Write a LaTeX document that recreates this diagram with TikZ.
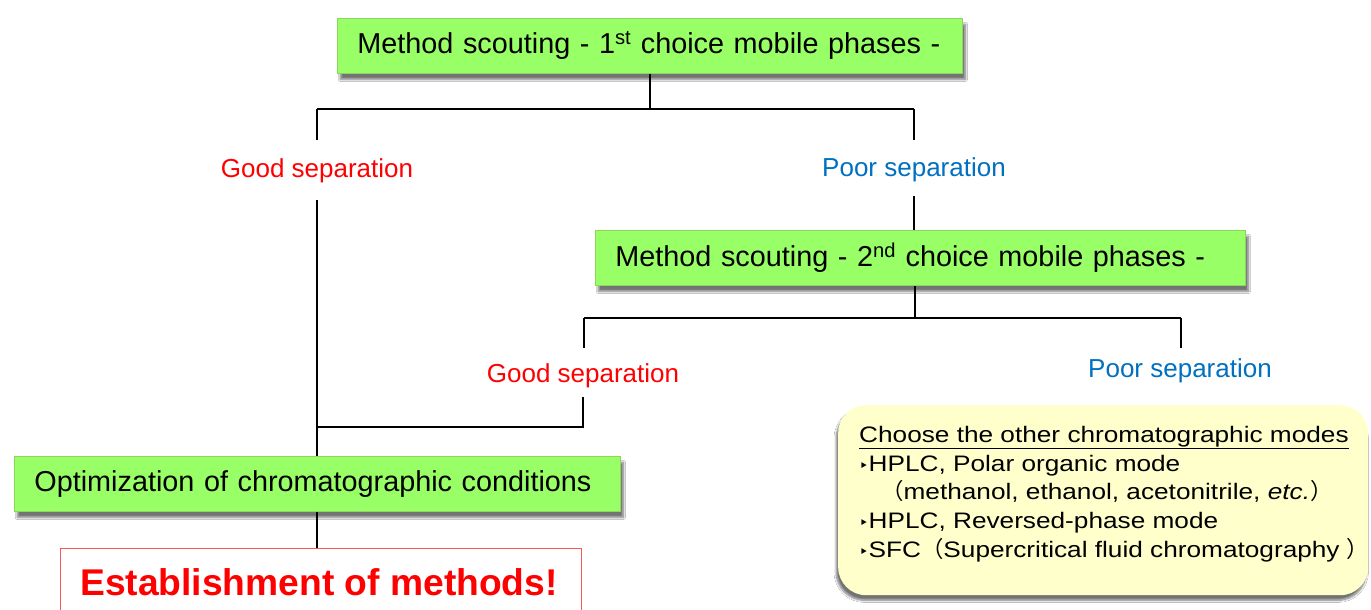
\documentclass[tikz,border=0pt]{standalone}
\usepackage{fontspec}
\setmainfont{Liberation Sans}
\newfontfamily\widefont[FakeStretch=1.17]{Liberation Sans}
\newfontfamily\cjkfont{Noto Sans CJK JP}
\newfontfamily\symfont{DejaVu Sans}
\usetikzlibrary{shadows.blur}
\definecolor{boxgreen}{HTML}{99FF66}
\definecolor{boxgreenline}{HTML}{8CD65C}
\definecolor{goodred}{HTML}{FF0000}
\definecolor{poorblue}{HTML}{0070C0}
\definecolor{notefill}{HTML}{FFFFCC}
\definecolor{estline}{HTML}{FF5555}
\begin{document}
\begin{tikzpicture}[x=1pt,y=-1pt,
  conn/.style={draw=black,line width=1.6pt},
  gbox/.style={draw=boxgreenline,line width=0.8pt,fill=boxgreen,anchor=north west,
    inner xsep=20pt,inner ysep=0pt,minimum height=55pt,align=left,
    font=\fontsize{28.8}{31}\selectfont,
    blur shadow={shadow xshift=3pt,shadow yshift=-6pt,shadow blur steps=8,shadow opacity=55}},
  goodlbl/.style={text=goodred,font=\fontsize{26}{30}\selectfont,inner sep=0pt,anchor=base},
  poorlbl/.style={text=poorblue,font=\fontsize{26}{30}\selectfont,inner sep=0pt,anchor=base},
  notebox/.style={fill=notefill,rounded corners=28pt,anchor=north west,
    blur shadow={shadow xshift=-2pt,shadow yshift=-5pt,shadow blur steps=8,shadow opacity=55}},
  estbox/.style={draw=estline,line width=1.4pt,fill=white,anchor=north west}
]
\useasboundingbox (0,0) rectangle (1371,610);
\clip (0,0) rectangle (1371,610);
\fill[white] (0,0) rectangle (1371,610);

% green boxes
\node[gbox,text width=585pt] (m1) at (337,18) {\raisebox{-1.5pt}{Method scouting - 1\textsuperscript{st} choice mobile phases -}};
\node[gbox,text width=610pt] (m2) at (595,230) {\raisebox{-1.5pt}{Method scouting - 2\textsuperscript{nd} choice mobile phases -}};
\node[gbox,text width=566pt] (m3) at (14,456) {\raisebox{-1.5pt}{Optimization of chromatographic conditions}};

% establishment box
\node[estbox,minimum width=521pt,minimum height=70pt] (est) at (60,548) {};
\node[text=goodred,font=\bfseries\fontsize{37.2}{40}\selectfont,inner sep=0pt,anchor=base] (esttext) at (319,595) {Establishment of methods!};

% labels
\node[goodlbl] (g1) at (317,177) {Good separation};
\node[poorlbl] (p1) at (914,176) {Poor separation};
\node[goodlbl] (g2) at (583,382) {Good separation};
\node[poorlbl] (p2) at (1180,377) {Poor separation};

% junction coordinates
\coordinate (j1) at (650,109);
\coordinate (j1l) at (317,109);
\coordinate (j1r) at (914,109);
\coordinate (g1t) at (317,140);
\coordinate (p1t) at (914,140);
\coordinate (g1b) at (317,200);
\coordinate (p1b) at (914,196);
\coordinate (j2) at (915,318);
\coordinate (j2l) at (584,318);
\coordinate (j2r) at (1181,318);
\coordinate (g2t) at (584,348);
\coordinate (p2t) at (1181,348);
\coordinate (g2b) at (583,397);
\coordinate (j3) at (583,427);
\coordinate (j3l) at (317,427);

% connectors
\draw[conn] (m1.south -| j1) -- (j1);
\draw[conn] (j1l) -- (j1r);
\draw[conn] (j1l) -- (g1t);
\draw[conn] (j1r) -- (p1t);
\draw[conn] (g1b) -- (g1b |- m3.north);
\draw[conn] (p1b) -- (p1b |- m2.north);
\draw[conn] (m2.south -| j2) -- (j2);
\draw[conn] (j2l) -- (j2r);
\draw[conn] (j2l) -- (g2t);
\draw[conn] (j2r) -- (p2t);
\draw[conn] (g2b) -- (j3) -- (j3l);
\draw[conn] (m3.south -| g1b) -- (est.north -| g1b);

% note box
\node[notebox,minimum width=530pt,minimum height=190pt] (note) at (838,405) {};
\node[anchor=north west,inner sep=0pt,align=left,font=\widefont\fontsize{22.4}{28.7}\selectfont] (notetext) at (859,426) {%
\underline{Choose the other chromatographic modes}\\
{\symfont\fontsize{16}{14}\selectfont ‣}HPLC, Polar organic mode\\
\hspace*{22pt}{\cjkfont （}methanol, ethanol, acetonitrile, \textit{etc.}{\cjkfont ）}\\
{\symfont\fontsize{16}{14}\selectfont ‣}HPLC, Reversed-phase mode\\
{\symfont\fontsize{16}{14}\selectfont ‣}SFC{\cjkfont （}Supercritical fluid chromatography {\cjkfont ）}};
\end{tikzpicture}
\end{document}
